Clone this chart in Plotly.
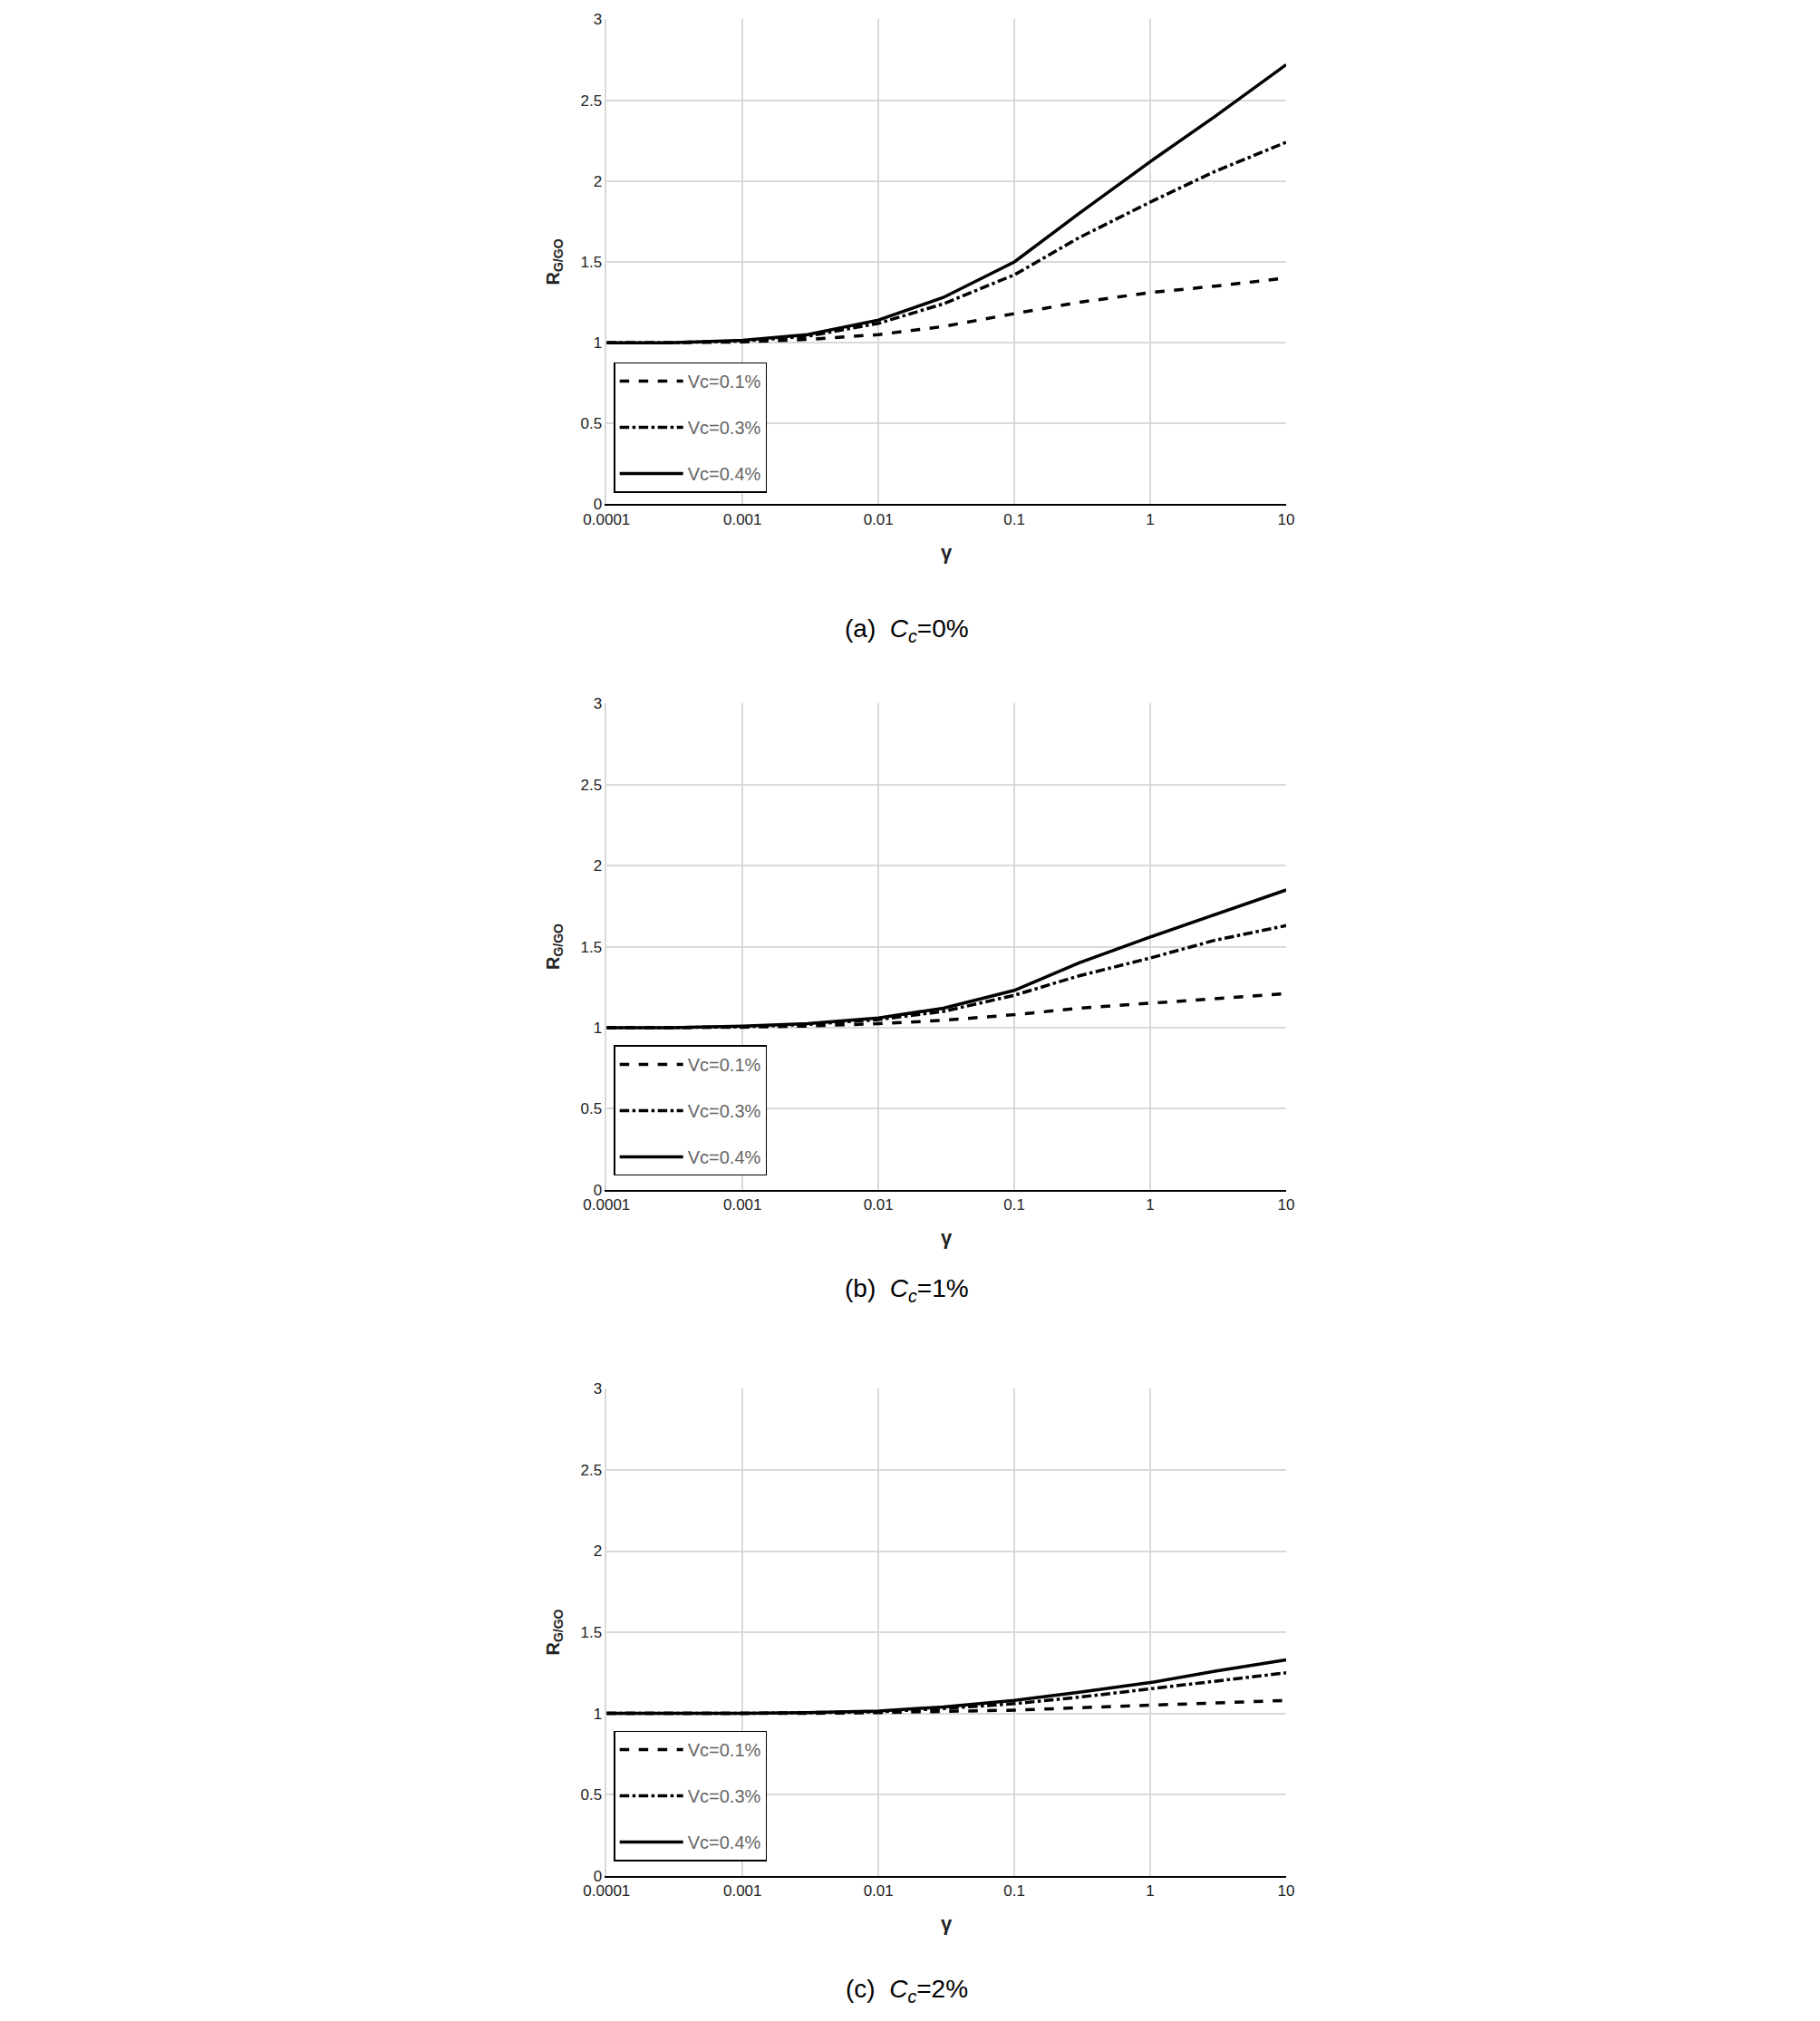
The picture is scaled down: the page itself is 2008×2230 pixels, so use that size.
import plotly.graph_objects as go

gamma = [0.0001, 0.0003, 0.001, 0.003, 0.01, 0.03, 0.1, 0.3, 1, 3, 10]
a_v01 = [1, 1, 1.005, 1.02, 1.05, 1.1, 1.18, 1.25, 1.31, 1.35, 1.4]
a_v03 = [1, 1, 1.01, 1.04, 1.12, 1.24, 1.42, 1.65, 1.87, 2.06, 2.24]
a_v04 = [1, 1, 1.015, 1.05, 1.14, 1.28, 1.5, 1.8, 2.12, 2.4, 2.72]
b_v01 = [1, 1, 1.003, 1.01, 1.025, 1.045, 1.08, 1.12, 1.15, 1.18, 1.21]
b_v03 = [1, 1, 1.005, 1.02, 1.05, 1.1, 1.2, 1.32, 1.43, 1.54, 1.63]
b_v04 = [1, 1, 1.01, 1.025, 1.06, 1.12, 1.23, 1.4, 1.56, 1.7, 1.85]
c_v01 = [1, 1, 1, 1, 1.005, 1.01, 1.02, 1.035, 1.05, 1.065, 1.08]
c_v03 = [1, 1, 1, 1.005, 1.01, 1.03, 1.06, 1.1, 1.15, 1.2, 1.25]
c_v04 = [1, 1, 1, 1.005, 1.015, 1.04, 1.08, 1.13, 1.19, 1.26, 1.33]
names = ["Vc=0.1%", "Vc=0.3%", "Vc=0.4%"]
dashes = ["dash", "dashdot", "solid"]
xticks = [0.0001, 0.001, 0.01, 0.1, 1, 10]
xticklabels = ["0.0001", "0.001", "0.01", "0.1", "1", "10"]
captions = ["(a)  <i>C<sub>c</sub></i>=0%", "(b)  <i>C<sub>c</sub></i>=1%", "(c)  <i>C<sub>c</sub></i>=2%"]

panels = [(a_v01, a_v03, a_v04), (b_v01, b_v03, b_v04), (c_v01, c_v03, c_v04)]
ydoms = [[0.756, 0.998], [0.414, 0.6565], [0.0716, 0.3146]]
legy = [0.827, 0.486, 0.144]
capy = [0.702, 0.364, 0.0055]
font = "Liberation Sans Narrow, Liberation Sans, Arial"

fig = go.Figure()
layout = dict(width=2008, height=2230, plot_bgcolor="white", paper_bgcolor="white",
              margin=dict(l=0, r=0, t=0, b=0), showlegend=True)
annotations = []
for i, series in enumerate(panels):
    sfx = "" if i == 0 else str(i + 1)
    for j, ys in enumerate(series):
        fig.add_trace(go.Scatter(x=gamma, y=ys, mode="lines", name=names[j],
                                 legendgroup=f"g{i}{j}",
                                 line=dict(color="black", width=3.5, dash=dashes[j]),
                                 xaxis="x" + sfx, yaxis="y" + sfx, legend="legend" + sfx))
    layout["xaxis" + sfx] = dict(type="log", range=[-4, 1], domain=[0.322, 0.702], anchor="y" + sfx,
                                 tickvals=xticks, ticktext=xticklabels, showgrid=True, gridcolor="#d9d9d9",
                                 gridwidth=1.5, showline=True, linecolor="black", linewidth=2,
                                 tickfont=dict(family=font, size=17, color="#222"),
                                 title=dict(text="<b>γ</b>", font=dict(family=font, size=22, color="#222"), standoff=20),
                                 zeroline=False)
    layout["yaxis" + sfx] = dict(range=[0, 3], domain=ydoms[i], anchor="x" + sfx, dtick=0.5,
                                 showgrid=True, gridcolor="#d9d9d9", gridwidth=1.5, zeroline=False,
                                 showline=True, linecolor="#d9d9d9", linewidth=1.5,
                                 tickfont=dict(family=font, size=17, color="#222"),
                                 title=dict(text="<b>R<sub>G/GO</sub></b>", font=dict(family=font, size=20, color="#222"), standoff=18))
    layout["legend" + sfx] = dict(x=0.326, y=legy[i], xanchor="left", yanchor="top",
                                  bordercolor="black", borderwidth=1.5,
                                  bgcolor="white", font=dict(family=font, size=20, color="#666"),
                                  tracegroupgap=22, itemwidth=70)
    annotations.append(dict(text=captions[i], xref="paper", yref="paper", x=0.49,
                            y=capy[i], showarrow=False,
                            font=dict(family="Liberation Sans, Arial", size=28, color="black")))
layout["annotations"] = annotations
fig.update_layout(**layout)
fig.write_html("out.html")
